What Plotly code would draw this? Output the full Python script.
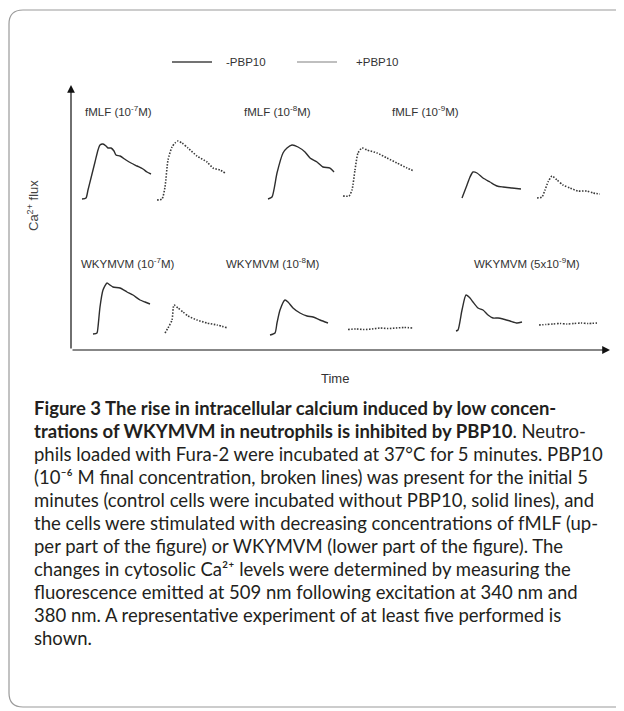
import plotly.graph_objects as go

# page offset (browser body margin) compensation
OFF = 8
W, H = 624 - OFF, 711 - OFF

# ---- data (time, Ca2+ flux in arbitrary units) ----
fmlf7_ctrl_t = [11, 15, 17, 20, 24, 27, 29, 32, 35, 37, 40, 43, 45, 49, 55, 60, 66, 72, 76, 80]
fmlf7_ctrl_v = [151, 152, 160, 172, 188, 200, 205, 206, 204, 202, 202, 199, 195, 194, 190, 187, 184, 181, 178, 176]
fmlf7_pbp_t = [86, 91, 94, 97, 101, 104, 107, 111, 117, 126, 136, 142, 149, 154]
fmlf7_pbp_v = [150, 151, 163, 190, 203, 207, 209, 207, 202, 194, 188, 182, 180, 177]

fmlf8_ctrl_t = [197, 201, 206, 212, 216, 221, 227, 234, 239, 246, 252, 259, 263]
fmlf8_ctrl_v = [151, 153, 177, 197, 202, 205, 203, 198, 192, 188, 183, 182, 178]
fmlf8_pbp_t = [272, 278, 281, 284, 287, 291, 296, 306, 316, 326, 336, 343]
fmlf8_pbp_v = [154, 154, 160, 180, 197, 202, 200, 197, 192, 187, 182, 179]

fmlf9_ctrl_t = [391, 396, 399, 402, 406, 412, 419, 426, 432, 441, 450]
fmlf9_ctrl_v = [152, 165, 173, 178, 177, 172, 168, 164, 163, 162, 161]
fmlf9_pbp_t = [466, 471, 474, 477, 481, 486, 492, 499, 507, 516, 522, 529]
fmlf9_pbp_v = [152, 153, 160, 168, 174, 170, 165, 162, 159, 159, 157, 156]

wky7_ctrl_t = [22, 26, 27, 29, 32, 36, 39, 42, 49, 56, 62, 69, 74, 79]
wky7_ctrl_v = [16, 17, 23, 43, 60, 67, 65, 63, 62, 58, 55, 50, 48, 46]
wky7_pbp_t = [94, 97, 101, 103, 107, 112, 117, 126, 136, 146, 157]
wky7_pbp_v = [17, 22, 30, 45, 42, 38, 34, 30, 27, 25, 22]

wky8_ctrl_t = [199, 204, 206, 209, 214, 217, 222, 229, 236, 242, 249, 257]
wky8_ctrl_v = [15, 17, 27, 40, 50, 48, 42, 37, 34, 33, 30, 27]
wky8_pbp_t = [277, 285, 293, 301, 309, 317, 325, 333, 342]
wky8_pbp_v = [20.5, 21, 20.5, 21, 22, 21.5, 22, 22.5, 22]

wky5_ctrl_t = [385, 387, 391, 395, 399, 402, 407, 412, 417, 422, 427, 432, 439, 446, 451]
wky5_ctrl_v = [19, 20, 40, 55, 52, 48, 42, 40, 35, 32, 32, 31, 29, 27, 28]
wky5_pbp_t = [468, 475, 482, 489, 496, 503, 510, 517, 526]
wky5_pbp_v = [25, 25.5, 26, 26.5, 26, 26.5, 27, 26.5, 27]

panel_titles = ["fMLF (10<sup>-7</sup>M)", "fMLF (10<sup>-8</sup>M)", "fMLF (10<sup>-9</sup>M)",
                "WKYMVM (10<sup>-7</sup>M)", "WKYMVM (10<sup>-8</sup>M)", "WKYMVM (5x10<sup>-9</sup>M)"]
title_t = [47, 206, 354, 57, 202, 456]
title_v = [239, 239, 239, 87, 87, 87]

legend_names = ["-PBP10", "+PBP10"]

caption_lines = [
    "<b>Figure 3 The rise in intracellular calcium induced by low concen-</b>",
    "<b>trations of WKYMVM in neutrophils is inhibited by PBP10</b>. Neutro-",
    "phils loaded with Fura-2 were incubated at 37°C for 5 minutes. PBP10",
    "(10⁻⁶ M final concentration, broken lines) was present for the initial 5",
    "minutes (control cells were incubated without PBP10, solid lines), and",
    "the cells were stimulated with decreasing concentrations of fMLF (up-",
    "per part of the figure) or WKYMVM (lower part of the figure). The",
    "changes in cytosolic Ca²⁺ levels were determined by measuring the",
    "fluorescence emitted at 509 nm following excitation at 340 nm and",
    "380 nm. A representative experiment of at least five performed is",
    "shown.",
]

X_MAX, Y_MAX = 539, 265


def px(x):
    return (x - OFF) / W


def py(y):
    return 1 - (y - OFF) / H


# ---- figure ----
fig = go.Figure()
solid = dict(color="#2e2e2e", width=1.4)
dotted = dict(color="#3a3a3a", width=1.6, dash="1.5px,1.5px")

pairs = [
    (fmlf7_ctrl_t, fmlf7_ctrl_v, fmlf7_pbp_t, fmlf7_pbp_v),
    (fmlf8_ctrl_t, fmlf8_ctrl_v, fmlf8_pbp_t, fmlf8_pbp_v),
    (fmlf9_ctrl_t, fmlf9_ctrl_v, fmlf9_pbp_t, fmlf9_pbp_v),
    (wky7_ctrl_t, wky7_ctrl_v, wky7_pbp_t, wky7_pbp_v),
    (wky8_ctrl_t, wky8_ctrl_v, wky8_pbp_t, wky8_pbp_v),
    (wky5_ctrl_t, wky5_ctrl_v, wky5_pbp_t, wky5_pbp_v),
]
for ct, cv, pt, pv in pairs:
    fig.add_trace(go.Scatter(x=ct, y=cv, mode="lines", line=dict(solid, shape="spline", smoothing=0.6),
                             showlegend=False, hoverinfo="skip"))
    fig.add_trace(go.Scatter(x=pt, y=pv, mode="lines", line=dict(dotted, shape="spline", smoothing=0.6),
                             showlegend=False, hoverinfo="skip"))

fig.update_layout(
    width=W, height=H, margin=dict(l=0, r=0, t=0, b=0),
    plot_bgcolor="white", paper_bgcolor="white",
    xaxis=dict(domain=[px(71), px(610)], range=[0, X_MAX], visible=False, fixedrange=True),
    yaxis=dict(domain=[py(350), py(85)], range=[0, Y_MAX], visible=False, fixedrange=True),
    showlegend=False,
)

FONT = "Arial, Liberation Sans, sans-serif"
ann = []
# axis arrows
ann.append(dict(x=X_MAX, y=0, ax=0, ay=0, xref="x", yref="y", axref="x", ayref="y",
                showarrow=True, arrowhead=2, arrowsize=1.3, arrowwidth=1.2, arrowcolor="#111", text=""))
ann.append(dict(x=0, y=Y_MAX, ax=0, ay=0, xref="x", yref="y", axref="x", ayref="y",
                showarrow=True, arrowhead=2, arrowsize=1.3, arrowwidth=1.2, arrowcolor="#111", text=""))
# panel titles
for txt, tx, ty in zip(panel_titles, title_t, title_v):
    ann.append(dict(x=tx, y=ty, xref="x", yref="y", text=txt, showarrow=False,
                    xanchor="center", yanchor="middle",
                    font=dict(family=FONT, size=11.5, color="#333")))
# axis titles
ann.append(dict(x=px(335), y=py(378), xref="paper", yref="paper", text="Time", showarrow=False,
                xanchor="center", yanchor="middle",
                font=dict(family=FONT, size=13, color="#333")))
ann.append(dict(x=px(33), y=py(206), xref="paper", yref="paper", text="Ca<sup>2+</sup> flux",
                showarrow=False, textangle=-90, xanchor="center", yanchor="middle",
                font=dict(family=FONT, size=13, color="#444")))
# legend texts
ann.append(dict(x=px(224), y=py(62), xref="paper", yref="paper", text=legend_names[0], showarrow=False,
                xanchor="left", yanchor="middle", font=dict(family=FONT, size=11.5, color="#333")))
ann.append(dict(x=px(354), y=py(62), xref="paper", yref="paper", text=legend_names[1], showarrow=False,
                xanchor="left", yanchor="middle", font=dict(family=FONT, size=11.5, color="#333")))
# caption
for i, line in enumerate(caption_lines):
    ann.append(dict(x=px(32), y=py(408 + 23 * i), xref="paper", yref="paper", text=line,
                    showarrow=False, xanchor="left", yanchor="middle",
                    font=dict(family="Lato", size=18.5, color="#231f20")))
fig.update_layout(annotations=ann)

shapes = []
shapes.append(dict(type="line", xref="paper", yref="paper", x0=px(172), x1=px(212),
                   y0=py(62), y1=py(62), line=dict(color="#444", width=1.5)))
shapes.append(dict(type="line", xref="paper", yref="paper", x0=px(297), x1=px(337),
                   y0=py(62), y1=py(62), line=dict(color="#aaa", width=1.5)))
# rounded frame
path = (f"M {px(640)},{py(10)} L {px(23)},{py(10)} Q {px(9)},{py(10)} {px(9)},{py(24)} "
        f"L {px(9)},{py(693)} Q {px(9)},{py(707)} {px(23)},{py(707)} L {px(640)},{py(707)}")
shapes.append(dict(type="path", xref="paper", yref="paper", path=path, line=dict(color="#9a9a9a", width=1.2)))
fig.update_layout(shapes=shapes)

fig.write_html("out.html")
